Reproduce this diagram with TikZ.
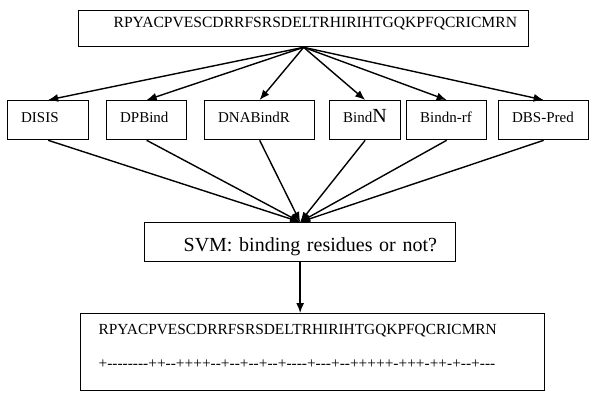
\documentclass[tikz,border=0pt]{standalone}
\usepackage{fontspec}
\setmainfont{Liberation Serif}
\newfontfamily\signfont{Liberation Serif}[Ligatures=TeXOff]
\usetikzlibrary{arrows.meta}

\begin{document}
\begin{tikzpicture}[x=1pt, y=-1pt,
    box/.style 2 args={draw, line width=1.3pt, inner xsep=0pt, inner ysep=0pt,
        anchor=north west, align=left, text width=#1,
        execute at begin node={\hspace*{#2}},
        font=\fontsize{15}{18}\selectfont},
    tool/.style={box={#1}{13.5pt}, minimum height=39pt,
        text height=11pt, text depth=6.6pt},
    link/.style={line width=1.4pt, -{Latex[length=10pt,width=8pt]}},
]
\useasboundingbox (0,0) rectangle (600,404);

% input sequence
\node[box={450pt}{35pt}, minimum height=36pt, text height=11pt, text depth=12.4pt,
    font=\fontsize{15.6}{18}\selectfont]
    (seq) at (78,10) {RPYACPVESCDRRFSRSDELTRHIRIHTGQKPFQCRICMRN};

% predictors
\node[tool=81pt] (disis) at (7,100) {DISIS};
\node[tool=80pt] (dpbind) at (106,100) {DPBind};
\node[tool=110pt] (dnabindr) at (204,100) {DNABindR};
\node[tool=71pt] (bindn) at (329,100) {Bind{\fontsize{20}{20}\selectfont N}};
\node[tool=80pt] (bindnrf) at (406,100) {Bindn-rf};
\node[tool=90pt] (dbspred) at (498,100) {DBS-Pred};

% classifier
\node[box={311pt}{39pt}, minimum height=39pt, text height=19pt, text depth=0pt,
    font=\fontsize{20}{24}\selectfont]
    (svm) at (144,222) {SVM: binding residues or not?};

% output
\node[box={464pt}{18pt}, minimum height=77pt, text height=10pt, text depth=46pt,
    font=\fontsize{15.4}{18}\selectfont]
    (out) at (80,313) {RPYACPVESCDRRFSRSDELTRHIRIHTGQKPFQCRICMRN\\[16pt]
    \hspace*{18pt}{\signfont +--------++--++++--+--+--+--+----+---+--+++++-+++-++-+--+---}};

\foreach \t in {disis, dpbind, dnabindr, bindn, bindnrf, dbspred} {
    \draw[link] (seq.south) -- (\t.north);
    \draw[link] (\t.south) -- (svm.north);
}
\draw[link] (svm.south) -- (svm.south |- out.north);
\end{tikzpicture}
\end{document}
